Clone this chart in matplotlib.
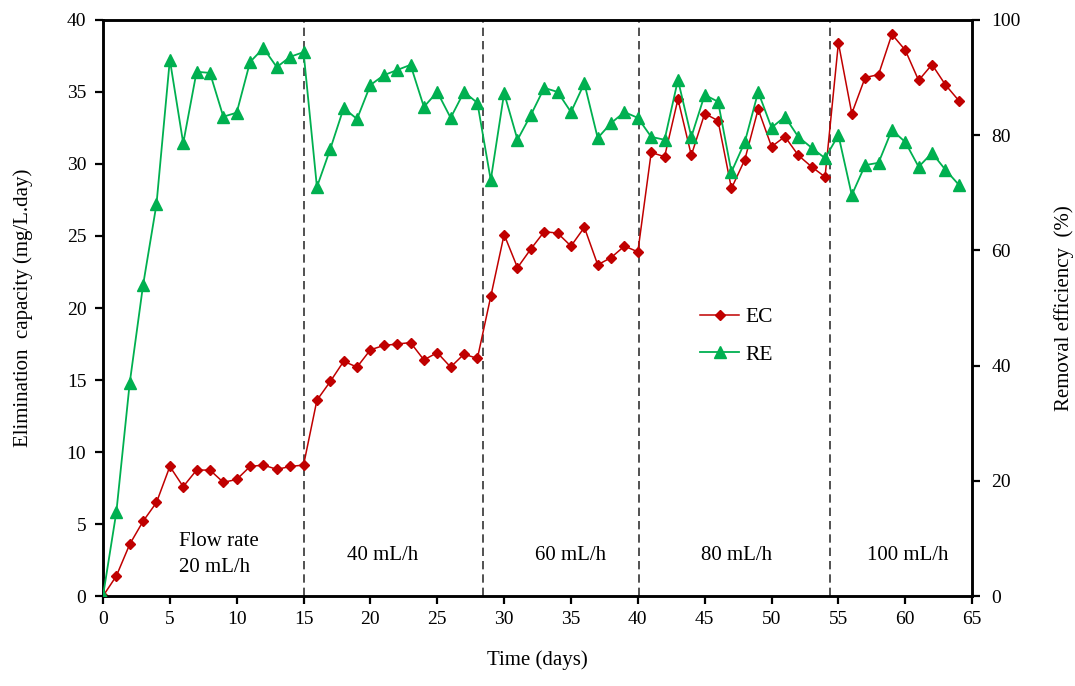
import matplotlib
matplotlib.use("Agg")
import matplotlib.pyplot as plt

plt.rcParams['font.family'] = ['Liberation Serif', 'DejaVu Serif']

days = list(range(0, 65))
ec = [0, 1.4, 3.6, 5.2, 6.5, 9.0, 7.6, 8.75, 8.75, 7.9, 8.1, 9.0, 9.1, 8.8, 9.0, 9.1,
      13.6, 14.9, 16.3, 15.9, 17.1, 17.4, 17.5, 17.6, 16.4, 16.9, 15.9, 16.8, 16.5,
      20.8, 25.1, 22.8, 24.1, 25.3, 25.2, 24.3, 25.6, 23.0, 23.5, 24.3, 23.9,
      30.8, 30.5, 34.5, 30.6, 33.5, 33.0, 28.3, 30.3, 33.8, 31.2, 31.9, 30.6, 29.8, 29.1,
      38.4, 33.5, 36.0, 36.2, 39.0, 37.9, 35.8, 36.9, 35.5, 34.4]
re = [0, 14.6, 37.0, 54.0, 68.0, 93.1, 78.6, 91.0, 90.8, 83.2, 83.9, 92.7, 95.1, 91.8, 93.6, 94.4,
      71.0, 77.6, 84.7, 82.8, 88.7, 90.4, 91.3, 92.2, 84.9, 87.5, 83.0, 87.5, 85.6,
      72.2, 87.3, 79.2, 83.5, 88.2, 87.5, 84.0, 89.0, 79.5, 82.1, 84.0, 83.0,
      79.7, 79.2, 89.6, 79.7, 87.0, 85.8, 73.6, 78.8, 87.5, 81.3, 83.2, 79.7, 77.8, 76.0,
      80.0, 69.6, 74.8, 75.2, 80.9, 78.8, 74.5, 76.9, 74.0, 71.4]
phase_bounds = [15, 28.4, 40.1, 54.4]
phase_labels = ["Flow rate\n20 mL/h", "40 mL/h", "60 mL/h", "80 mL/h", "100 mL/h"]
phase_label_x = [5.7, 20.9, 35.0, 47.4, 60.2]

fig = plt.figure(figsize=(10.75, 6.86), dpi=100)
ax = fig.add_axes([0.0958, 0.131, 0.8085, 0.840])
ax2 = ax.twinx()

ec_red = '#C00000'
re_green = '#00B050'

l1, = ax.plot(days, ec, color=ec_red, lw=1.1, marker='D', ms=5.5, mfc=ec_red, mec=ec_red, label='EC', zorder=3)
l2, = ax2.plot(days, re, color=re_green, lw=1.3, marker='^', ms=8.5, mfc=re_green, mec=re_green, label='RE', zorder=3)

for b in phase_bounds:
    ax.axvline(b, color='#333333', lw=1.2, ls=(0, (5, 3)), zorder=1)

ax.set_xlim(0, 65)
ax.set_ylim(0, 40)
ax2.set_ylim(0, 100)
ax.set_xticks(range(0, 66, 5))
ax.set_yticks(range(0, 41, 5))
ax2.set_yticks(range(0, 101, 20))

for a in (ax, ax2):
    for s in a.spines.values():
        s.set_linewidth(1.8)
    a.tick_params(direction='out', width=1.6, length=6, labelsize=14)
ax.tick_params(axis='x', pad=5)
ax.tick_params(axis='y', pad=6)
ax2.tick_params(axis='y', pad=8)

ax.set_xlabel('Time (days)', fontsize=15, labelpad=16)
ax.set_ylabel('Elimination  capacity (mg/L.day)', fontsize=15, labelpad=24)
ax2.set_ylabel('Removal efficiency  (%)', fontsize=15, labelpad=24)

for i, (txt, xp) in enumerate(zip(phase_labels, phase_label_x)):
    if i == 0:
        ax.text(xp, 2.9, txt, ha='left', va='center', fontsize=15, linespacing=1.5)
    else:
        ax.text(xp, 2.85, txt, ha='center', va='center', fontsize=15)

leg = ax.legend(handles=[l1, l2], loc='upper left', bbox_to_anchor=(0.665, 0.535),
                frameon=False, fontsize=15.5, handlelength=1.8, labelspacing=0.8,
                handletextpad=0.3)

fig.savefig('out.png', dpi=100)
